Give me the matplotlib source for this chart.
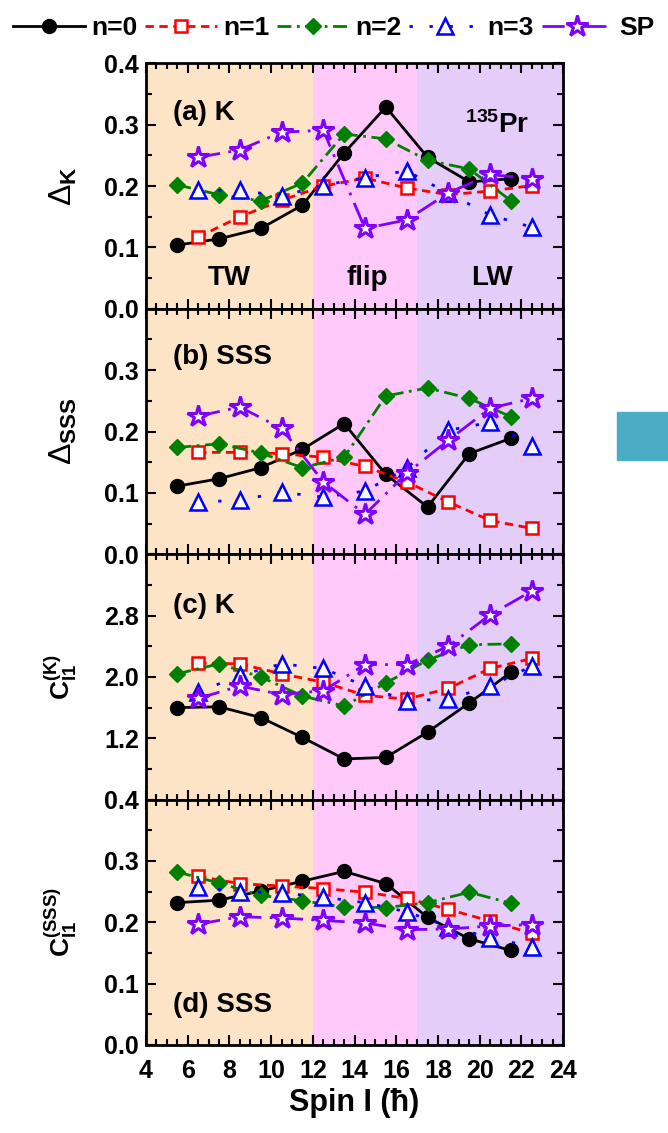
import matplotlib.pyplot as plt
from matplotlib.patches import Rectangle
from matplotlib.ticker import MultipleLocator, FixedLocator

plt.rcParams['font.family'] = ['Liberation Sans', 'DejaVu Sans']
plt.rcParams['font.weight'] = 'bold'
plt.rcParams['axes.labelweight'] = 'bold'
plt.rcParams['mathtext.fontset'] = 'custom'
plt.rcParams['mathtext.rm'] = 'Liberation Sans:bold'
plt.rcParams['mathtext.it'] = 'Liberation Sans:bold'
plt.rcParams['mathtext.bf'] = 'Liberation Sans:bold'

# spin values (n=0 and n=2 on one set, the rest shifted by one)
spin_even = [5.5, 7.5, 9.5, 11.5, 13.5, 15.5, 17.5, 19.5, 21.5]
spin_odd = [6.5, 8.5, 10.5, 12.5, 14.5, 16.5, 18.5, 20.5, 22.5]

series_names = ['n=0', 'n=1', 'n=2', 'n=3', 'SP']

# (a) Delta_K
dk_n0 = [0.104, 0.114, 0.131, 0.169, 0.254, 0.329, 0.247, 0.207, 0.212]
dk_n1 = [0.117, 0.150, 0.177, 0.200, 0.213, 0.197, 0.186, 0.192, 0.201]
dk_n2 = [0.202, 0.186, 0.176, 0.205, 0.285, 0.277, 0.242, 0.228, 0.176]
dk_n3 = [0.193, 0.193, 0.184, 0.201, 0.214, 0.225, 0.188, 0.153, 0.133]
dk_sp = [0.247, 0.259, 0.288, 0.291, 0.131, 0.145, 0.189, 0.219, 0.212]

# (b) Delta_SSS
ds_n0 = [0.111, 0.123, 0.141, 0.171, 0.213, 0.130, 0.077, 0.164, 0.189]
ds_n1 = [0.166, 0.166, 0.164, 0.158, 0.143, 0.118, 0.085, 0.055, 0.042]
ds_n2 = [0.174, 0.180, 0.165, 0.141, 0.158, 0.258, 0.271, 0.254, 0.224]
ds_n3 = [0.085, 0.088, 0.101, 0.093, 0.103, 0.140, 0.202, 0.215, 0.177]
ds_sp = [0.225, 0.240, 0.205, 0.118, 0.065, 0.132, 0.186, 0.238, 0.254]

# (c) C_I1 for K
ck_n0 = [1.60, 1.61, 1.47, 1.21, 0.93, 0.95, 1.28, 1.66, 2.06]
ck_n1 = [2.18, 2.17, 2.04, 1.93, 1.76, 1.71, 1.85, 2.11, 2.24]
ck_n2 = [2.04, 2.17, 2.00, 1.75, 1.62, 1.92, 2.22, 2.42, 2.43]
ck_n3 = [1.80, 2.02, 2.17, 2.11, 1.88, 1.69, 1.71, 1.88, 2.14]
ck_sp = [1.72, 1.88, 1.77, 1.82, 2.16, 2.16, 2.40, 2.81, 3.12]

# (d) C_I1 for SSS
cs_n0 = [0.232, 0.236, 0.251, 0.267, 0.283, 0.263, 0.208, 0.173, 0.154]
cs_n1 = [0.275, 0.263, 0.259, 0.255, 0.249, 0.239, 0.221, 0.202, 0.182]
cs_n2 = [0.282, 0.264, 0.244, 0.235, 0.225, 0.224, 0.232, 0.249, 0.231]
cs_n3 = [0.257, 0.250, 0.248, 0.241, 0.232, 0.217, 0.193, 0.175, 0.160]
cs_sp = [0.197, 0.209, 0.207, 0.203, 0.199, 0.188, 0.189, 0.194, 0.196]

panels = [
    [dk_n0, dk_n1, dk_n2, dk_n3, dk_sp],
    [ds_n0, ds_n1, ds_n2, ds_n3, ds_sp],
    [ck_n0, ck_n1, ck_n2, ck_n3, ck_sp],
    [cs_n0, cs_n1, cs_n2, cs_n3, cs_sp],
]
spins = [spin_even, spin_odd, spin_even, spin_odd, spin_odd]

styles = [
    dict(color='black', ls='-', marker='o', ms=10, mfc='black', mec='black'),
    dict(color='#ff0000', ls=(0, (3, 2)), marker='s', ms=8.5, mfc='white', mec='#ff0000', mew=1.8),
    dict(color='#008000', ls=(0, (5, 2, 1, 2)), marker='D', ms=8.5, mfc='#008000', mec='#008000'),
    dict(color='#0000ff', ls=(0, (1.2, 6)), marker='^', ms=11, mfc='white', mec='#0000ff', mew=1.8),
    dict(color='#8000ff', ls=(0, (8, 3, 1, 3)), marker='*', ms=16, mfc='white', mec='#8000ff', mew=2.2),
]

# thin delta with bold subscript, bold C labels
ylabels = [r'Δ$_{\mathrm{K}}$', r'Δ$_{\mathrm{SSS}}$',
           r'$\mathrm{C}_{\mathrm{I1}}^{\mathrm{(K)}}$', r'$\mathrm{C}_{\mathrm{I1}}^{\mathrm{(SSS)}}$']
ylabel_sizes = [23, 23, 19, 19]
ylabel_weights = ['normal', 'normal', 'bold', 'bold']

fig, axes = plt.subplots(4, 1, figsize=(6.68, 11.33), dpi=100, sharex=True)
fig.subplots_adjust(left=0.2186, right=0.843, bottom=0.0777, top=0.944, hspace=0)

for i, ax in enumerate(axes):
    # shaded regions: TW, flip, LW
    ax.axvspan(4, 12, color='#fde4c6', lw=0, zorder=0)
    ax.axvspan(12, 17, color='#ffc9f9', lw=0, zorder=0)
    ax.axvspan(17, 24, color='#e4cdf9', lw=0, zorder=0)
    for k in range(5):
        ax.plot(spins[k], panels[i][k], lw=2, label=series_names[k], zorder=3, **styles[k])
    ax.set_xlim(4, 24)
    ax.xaxis.set_major_locator(MultipleLocator(2))
    ax.xaxis.set_minor_locator(MultipleLocator(0.5))
    ax.tick_params(which='both', direction='in', top=True, right=True, width=1.5, labelsize=18, pad=5)
    ax.tick_params(axis='x', pad=10)
    ax.tick_params(which='major', length=7)
    ax.tick_params(which='minor', length=4)
    for sp in ax.spines.values():
        sp.set_linewidth(2)
    ax.set_ylabel(ylabels[i], fontsize=ylabel_sizes[i], fontweight=ylabel_weights[i])
    ax.yaxis.set_label_coords(-0.16, 0.5)

# y scales
for ax in [axes[0], axes[1], axes[3]]:
    ax.set_ylim(0, 0.4)
    ax.yaxis.set_major_locator(FixedLocator([0.0, 0.1, 0.2, 0.3, 0.4]))
    ax.yaxis.set_minor_locator(FixedLocator([0.05, 0.15, 0.25, 0.35]))
axes[0].set_yticklabels(['0.0', '0.1', '0.2', '0.3', '0.4'])
axes[1].set_yticklabels(['0.0', '0.1', '0.2', '0.3', ''])
axes[3].set_yticklabels(['0.0', '0.1', '0.2', '0.3', '0.4'])
axes[2].set_ylim(0.4, 3.6)
axes[2].yaxis.set_major_locator(FixedLocator([0.4, 1.2, 2.0, 2.8, 3.6]))
axes[2].yaxis.set_minor_locator(FixedLocator([0.8, 1.6, 2.4, 3.2]))
axes[2].set_yticklabels(['', '1.2', '2.0', '2.8', ''])

axes[3].set_xlabel('Spin I (ħ)', fontsize=22, labelpad=4)

# panel annotations
axes[0].text(5.3, 0.32, '(a) K', fontsize=20, va='center')
axes[0].text(19.3, 0.30, r'$^{135}$Pr', fontsize=20, va='center')
axes[0].text(8.0, 0.05, 'TW', fontsize=20, ha='center', va='center')
axes[0].text(14.6, 0.05, 'flip', fontsize=20, ha='center', va='center')
axes[0].text(20.6, 0.05, 'LW', fontsize=20, ha='center', va='center')
axes[1].text(5.3, 0.322, '(b) SSS', fontsize=20, va='center')
axes[2].text(5.3, 2.92, '(c) K', fontsize=20, va='center')
axes[3].text(5.3, 0.065, '(d) SSS', fontsize=20, va='center')

handles, labels = axes[0].get_legend_handles_labels()
fig.legend(handles, labels, loc='upper center', bbox_to_anchor=(0.5, 1.0), ncol=5,
           frameon=False, fontsize=19, handlelength=2.7, handletextpad=0.25,
           columnspacing=0.3, borderaxespad=0.2)

# stray teal box at right edge
fig.patches.append(Rectangle((617 / 668, 1 - 460 / 1133), 51 / 668, 48 / 1133,
                             transform=fig.transFigure, color='#4bacc6', zorder=5))

fig.savefig('out.png', dpi=100)
